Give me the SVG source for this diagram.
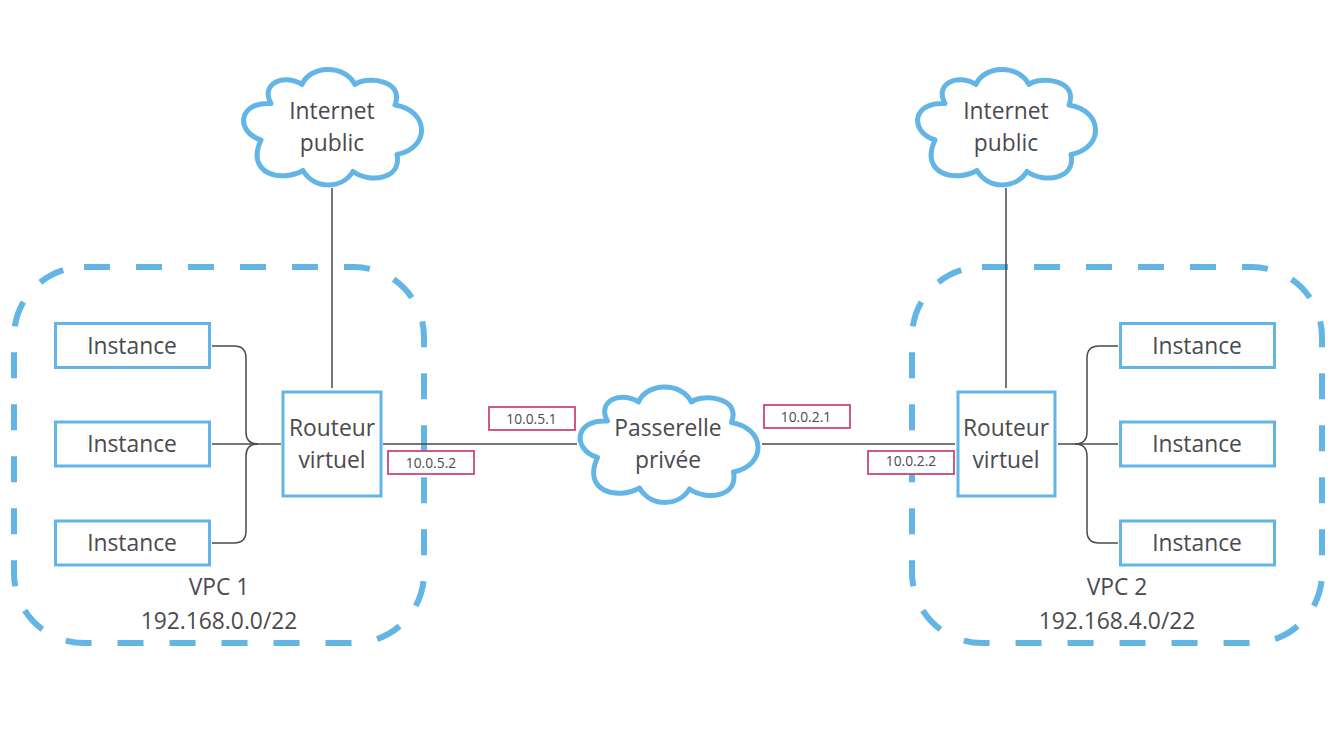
<svg xmlns="http://www.w3.org/2000/svg" xmlns:xlink="http://www.w3.org/1999/xlink" width="1333" height="750" viewBox="0 0 1333 750">
<style>
text{font-family:"Open Sans","Noto Sans","Liberation Sans",sans-serif;fill:#4a4a4f;text-anchor:middle}
.t{font-size:22.800px}
.s{font-size:13.800px}
.vpc{fill:none;stroke:#63b5e5;stroke-width:6;stroke-dasharray:26 26}
.box{fill:#fff;stroke:#63b5e5;stroke-width:3}
.cloud{fill:#fff;stroke:#63b5e5;stroke-width:5;stroke-linejoin:round}
.ip{fill:#fff;stroke:#c93c6e;stroke-width:1.7}
.c{fill:none;stroke:#4a4a4f;stroke-width:1.5}
</style>
<defs>
<path id="cl" d="M-61 -23C-72 -42 -49 -54 -30 -42C-22 -61 12 -63 23 -42C33 -50 73 -48 63 -21.500C97 -16 99 21 65 28C70 53 38 57 21 45C10 63 -18 63 -29 44C-50 56 -87 48 -71 13.500C-97 5 -94 -25 -61 -23Z"/>
</defs>
<rect width="1333" height="750" fill="#fff"/>
<g id="vpc1"><rect class="vpc" x="14" y="267" width="410" height="376" rx="70" ry="70"/><text class="t" x="219" y="595">VPC 1</text><text class="t" x="219" y="629">192.168.0.0/22</text></g>
<g id="vpc2"><rect class="vpc" x="912" y="267" width="410" height="376" rx="70" ry="70"/><text class="t" x="1117" y="595">VPC 2</text><text class="t" x="1117" y="629">192.168.4.0/22</text></g>
<g id="connectors">
<path class="c" d="M332 188V388"/>
<path class="c" d="M1006 188V388"/>
<path class="c" d="M212 346H234Q246 346 246 358V432Q246 444 258 444"/>
<path class="c" d="M212 444H281"/>
<path class="c" d="M212 543H234Q246 543 246 531V456Q246 444 258 444"/>
<path class="c" d="M383 444H577"/>
<path class="c" d="M762 444H955"/>
<path class="c" d="M1118 346H1099Q1087 346 1087 358V432Q1087 444 1075 444"/>
<path class="c" d="M1058 444H1118"/>
<path class="c" d="M1118 543H1099Q1087 543 1087 531V456Q1087 444 1075 444"/>
</g>
<g id="internet1"><use href="#cl" class="cloud" x="332" y="126.500"/><text class="t" x="332" y="118.500">Internet</text><text class="t" x="332" y="150.500">public</text></g>
<g id="internet2"><use href="#cl" class="cloud" x="1006" y="126.500"/><text class="t" x="1006" y="118.500">Internet</text><text class="t" x="1006" y="150.500">public</text></g>
<g id="passerelle"><use href="#cl" class="cloud" x="668.500" y="444"/><text class="t" x="668" y="435.500">Passerelle</text><text class="t" x="668" y="468">privée</text></g>
<g id="router1"><rect class="box" x="283" y="392" width="98" height="104"/><text class="t" x="332" y="435.500">Routeur</text><text class="t" x="332" y="468">virtuel</text></g>
<g id="router2"><rect class="box" x="958" y="392" width="97" height="104"/><text class="t" x="1006" y="435.500">Routeur</text><text class="t" x="1006" y="468">virtuel</text></g>
<g id="inst1"><rect class="box" x="55.500" y="323.500" width="154" height="44"/><text class="t" x="132" y="354">Instance</text></g>
<g id="inst2"><rect class="box" x="55.500" y="422" width="154" height="44"/><text class="t" x="132" y="452">Instance</text></g>
<g id="inst3"><rect class="box" x="55.500" y="521" width="154" height="44"/><text class="t" x="132" y="551">Instance</text></g>
<g id="inst4"><rect class="box" x="1120.500" y="323.500" width="154" height="44"/><text class="t" x="1197" y="354">Instance</text></g>
<g id="inst5"><rect class="box" x="1120.500" y="422" width="154" height="44"/><text class="t" x="1197" y="452">Instance</text></g>
<g id="inst6"><rect class="box" x="1120.500" y="521" width="154" height="44"/><text class="t" x="1197" y="551">Instance</text></g>
<g id="ip1"><rect class="ip" x="489" y="407" width="86" height="23"/><text class="s" x="531.500" y="424">10.0.5.1</text></g>
<g id="ip2"><rect class="ip" x="388" y="451" width="86" height="23"/><text class="s" x="431" y="468">10.0.5.2</text></g>
<g id="ip3"><rect class="ip" x="764" y="405" width="86" height="23"/><text class="s" x="806" y="422">10.0.2.1</text></g>
<g id="ip4"><rect class="ip" x="868" y="451" width="86" height="23"/><text class="s" x="911" y="466">10.0.2.2</text></g>
</svg>
